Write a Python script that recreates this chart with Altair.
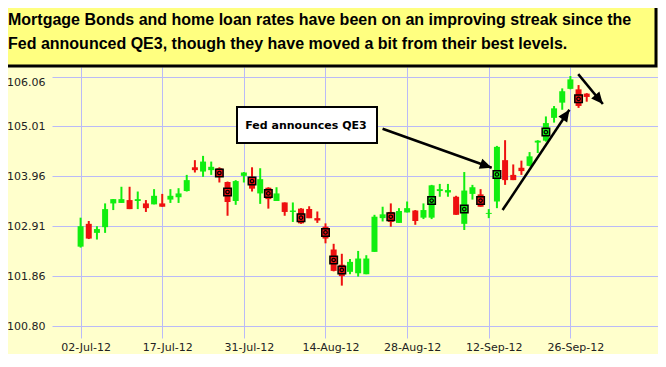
import altair as alt
import pandas as pd

# ---------------- data ----------------
dates = ["02-Jul-12", "03-Jul-12", "05-Jul-12", "06-Jul-12", "09-Jul-12", "10-Jul-12",
         "11-Jul-12", "12-Jul-12", "13-Jul-12", "16-Jul-12", "17-Jul-12", "18-Jul-12",
         "19-Jul-12", "20-Jul-12", "23-Jul-12", "24-Jul-12", "25-Jul-12", "26-Jul-12",
         "27-Jul-12", "30-Jul-12", "31-Jul-12", "01-Aug-12", "02-Aug-12", "03-Aug-12",
         "06-Aug-12", "07-Aug-12", "08-Aug-12", "09-Aug-12", "10-Aug-12", "13-Aug-12",
         "14-Aug-12", "15-Aug-12", "16-Aug-12", "17-Aug-12", "20-Aug-12", "21-Aug-12",
         "22-Aug-12", "23-Aug-12", "24-Aug-12", "27-Aug-12", "28-Aug-12", "29-Aug-12",
         "30-Aug-12", "31-Aug-12", "04-Sep-12", "05-Sep-12", "06-Sep-12", "07-Sep-12",
         "10-Sep-12", "11-Sep-12", "12-Sep-12", "13-Sep-12", "14-Sep-12", "17-Sep-12",
         "18-Sep-12", "19-Sep-12", "20-Sep-12", "21-Sep-12", "24-Sep-12", "25-Sep-12",
         "26-Sep-12", "27-Sep-12", "28-Sep-12"]

opens = [102.48, 102.96, 102.77, 102.89, 103.39, 103.40, 103.46, 103.44, 103.39, 103.37,
         103.39, 103.47, 103.52, 103.65, 104.15, 104.06, 104.09, 104.13, 103.84, 103.44,
         103.97, 103.95, 103.60, 103.72, 103.44, 103.41, 103.21, 103.28, 103.27, 103.08,
         102.90, 102.42, 102.10, 101.95, 101.92, 101.90, 102.37, 103.08, 103.21, 102.98,
         103.20, 103.24, 103.09, 103.09, 103.65, 103.62, 103.53, 102.96, 103.59, 103.58,
         103.17, 103.43, 104.30, 103.99, 104.14, 104.18, 104.67, 104.71, 105.19, 105.51,
         105.80, 105.79, 105.70]
highs = [103.09, 103.02, 102.91, 103.39, 103.48, 103.74, 103.74, 103.64, 103.46, 103.69,
         103.59, 103.69, 103.71, 103.99, 104.30, 104.39, 104.27, 104.15, 103.85, 103.88,
         104.05, 104.15, 104.13, 103.73, 103.73, 103.41, 103.41, 103.29, 103.33, 103.22,
         102.97, 102.54, 102.33, 102.22, 102.39, 102.30, 103.15, 103.32, 103.39, 103.29,
         103.43, 103.25, 103.39, 103.78, 103.80, 103.80, 103.55, 104.05, 103.78, 103.69,
         103.27, 104.60, 104.72, 104.21, 104.29, 104.47, 104.72, 105.22, 105.44, 105.81,
         106.07, 105.88, 105.71]
lows = [102.46, 102.64, 102.63, 102.77, 103.25, 103.40, 103.27, 103.27, 103.21, 103.37,
        103.32, 103.40, 103.40, 103.64, 104.04, 103.95, 103.99, 103.83, 103.13, 103.36,
        103.83, 103.64, 103.38, 103.28, 103.44, 103.13, 103.00, 102.96, 103.08, 102.98,
        102.55, 101.96, 101.66, 101.90, 101.85, 101.90, 102.37, 103.01, 102.90, 102.98,
        103.20, 102.94, 103.06, 103.06, 103.53, 103.53, 103.15, 102.83, 103.47, 103.32,
        103.08, 103.29, 103.78, 103.88, 103.99, 104.17, 104.45, 104.69, 105.09, 105.36,
        105.79, 105.40, 105.53]
closes = [102.91, 102.65, 102.85, 103.27, 103.48, 103.48, 103.27, 103.48, 103.29, 103.55,
          103.32, 103.55, 103.60, 103.88, 104.09, 104.27, 104.16, 103.95, 103.42, 103.86,
          104.04, 103.70, 103.90, 103.48, 103.60, 103.21, 103.24, 102.97, 103.08, 103.03,
          102.65, 101.97, 101.86, 102.16, 102.23, 102.23, 103.11, 103.16, 103.00, 103.23,
          103.29, 103.02, 103.25, 103.77, 103.69, 103.67, 103.15, 103.66, 103.73, 103.32,
          103.19, 104.58, 103.88, 103.88, 104.07, 104.38, 104.71, 105.08, 105.39, 105.75,
          106.00, 105.44, 105.63]

marker_days = ["26-Jul-12", "27-Jul-12", "01-Aug-12", "03-Aug-12", "09-Aug-12", "14-Aug-12",
               "15-Aug-12", "16-Aug-12", "24-Aug-12", "31-Aug-12", "07-Sep-12", "11-Sep-12",
               "13-Sep-12", "21-Sep-12", "27-Sep-12"]
marker_values = [104.03, 103.63, 103.86, 103.60, 103.09, 102.78, 102.20, 101.99, 103.11,
                 103.45, 103.27, 103.45, 104.00, 104.89, 105.59]

y_ticks = [100.80, 101.86, 102.91, 103.96, 105.01, 106.06]
x_tick_step = 10

title_lines = ["Mortgage Bonds and home loan rates have been on an improving streak since the",
               "Fed announced QE3, though they have moved a bit from their best levels."]
note_text = "Fed announces QE3"

# arrows: start (day index, price) -> end (day index, price)
arrow_x1 = [36.99, 51.69, 60.96]
arrow_y1 = [104.96, 103.25, 106.11]
arrow_x2 = [50.36, 59.88, 63.98]
arrow_y2 = [104.14, 105.36, 105.48]
arrow_angle = [109.4, 34.2, 140.2]

# ---------------- styling ----------------
GREEN = "#10EE10"
RED = "#EE1010"
BG = "#FFFFCC"
GRID = "#BABAF8"
PW, PH = 606, 271

df = pd.DataFrame({"idx": list(range(len(dates))), "date": dates, "open": opens,
                   "high": highs, "low": lows, "close": closes})
df["dir"] = ["up" if c >= o else "down" for o, c in zip(opens, closes)]

mk = pd.DataFrame({"date": marker_days, "value": marker_values})
mk["idx"] = [dates.index(d) for d in marker_days]
mk = mk.merge(df[["idx", "dir"]], on="idx")

arrows = pd.DataFrame({"x1": arrow_x1, "y1": arrow_y1, "x2": arrow_x2, "y2": arrow_y2,
                       "ang": arrow_angle})

xdom = [-2.892, 70.12]
ydom = [100.558, 106.26]
tick_vals = list(range(0, len(dates), x_tick_step))
label_arr = "[" + ",".join("'" + dates[v] + "'" for v in tick_vals) + "]"

xscale = alt.Scale(domain=xdom, nice=False, zero=False)
yscale = alt.Scale(domain=ydom, nice=False, zero=False)
color = alt.Color("dir:N", scale=alt.Scale(domain=["up", "down"], range=[GREEN, RED]),
                  legend=None)

xaxis = alt.Axis(values=tick_vals, labelExpr=label_arr + "[round(datum.value/10)]",
                 grid=True, gridColor=GRID, gridWidth=1, domain=False, ticks=False,
                 labelPadding=3, labelOffset=5, labelFlush=False, labelOverlap=False,
                 title=None)
yaxis = alt.Axis(values=y_ticks, format=".2f", grid=True, gridColor=GRID, gridWidth=1,
                 domain=False, ticks=False, labelPadding=7, labelFlush=10,
                 labelOverlap=False, title=None)

base = alt.Chart(df)

wicks = base.mark_rule(strokeWidth=2).encode(
    x=alt.X("idx:Q", scale=xscale, axis=xaxis),
    y=alt.Y("low:Q", scale=yscale, axis=yaxis),
    y2="high:Q",
    color=color,
)
bodies = base.mark_bar(size=6).encode(
    x=alt.X("idx:Q", scale=xscale),
    y=alt.Y("open:Q", scale=yscale),
    y2="close:Q",
    color=color,
)
msq = alt.Chart(mk).mark_point(shape="square", size=56, filled=True, stroke="black",
                               strokeWidth=1.5, opacity=1).encode(
    x=alt.X("idx:Q", scale=xscale),
    y=alt.Y("value:Q", scale=yscale),
    fill=alt.Fill("dir:N", scale=alt.Scale(domain=["up", "down"], range=[GREEN, RED]),
                  legend=None),
)
mci = alt.Chart(mk).mark_point(shape="circle", size=12, filled=False, color="black",
                               strokeWidth=1.2, opacity=1).encode(
    x=alt.X("idx:Q", scale=xscale),
    y=alt.Y("value:Q", scale=yscale),
)

arrow_lines = alt.Chart(arrows).mark_rule(color="black", strokeWidth=2.5).encode(
    x=alt.X("x1:Q", scale=xscale), x2="x2:Q",
    y=alt.Y("y1:Q", scale=yscale), y2="y2:Q",
)
arrow_heads = alt.Chart(arrows).mark_point(
    shape="M0,0 L-0.45,1 L0.45,1 Z", filled=True, color="black", size=560, opacity=1
).encode(
    x=alt.X("x2:Q", scale=xscale),
    y=alt.Y("y2:Q", scale=yscale),
    angle=alt.Angle("ang:Q", scale=None),
)

one = alt.Data(values=[{"k": 1}])
title_box = alt.Chart(one).mark_rect(fill="#FFFF80", stroke="black", strokeWidth=3).encode(
    x=alt.value(-60), x2=alt.value(604), y=alt.value(-75), y2=alt.value(-1)
)
title_text1 = alt.Chart(one).mark_text(
    text=title_lines[0], align="left", baseline="middle", font="Liberation Sans",
    fontWeight="bold", fontSize=16, color="black"
).encode(x=alt.value(-44), y=alt.value(-47))
title_text2 = alt.Chart(one).mark_text(
    text=title_lines[1], align="left", baseline="middle", font="Liberation Sans",
    fontWeight="bold", fontSize=16, color="black"
).encode(x=alt.value(-44), y=alt.value(-23))

note_box = alt.Chart(one).mark_rect(fill="white", stroke="black", strokeWidth=2).encode(
    x=alt.value(185), x2=alt.value(325), y=alt.value(40), y2=alt.value(76)
)
note = alt.Chart(one).mark_text(
    text=note_text, align="center", baseline="middle", font="DejaVu Sans",
    fontWeight="bold", fontSize=11, color="black"
).encode(x=alt.value(254), y=alt.value(59))

chart = alt.layer(
    wicks, bodies, msq, mci, arrow_lines, arrow_heads,
    title_box, title_text1, title_text2, note_box, note
).properties(
    width=PW, height=PH,
    padding={"left": 44, "top": 59, "right": 0, "bottom": 16},
    autosize=alt.AutoSizeParams(type="none"),
    background=BG,
).configure_view(stroke=None).configure_axis(
    labelFont="DejaVu Sans", labelFontSize=11, labelColor="#222222"
)

chart.save("out.html", embed_options={"renderer": "svg", "actions": False})
